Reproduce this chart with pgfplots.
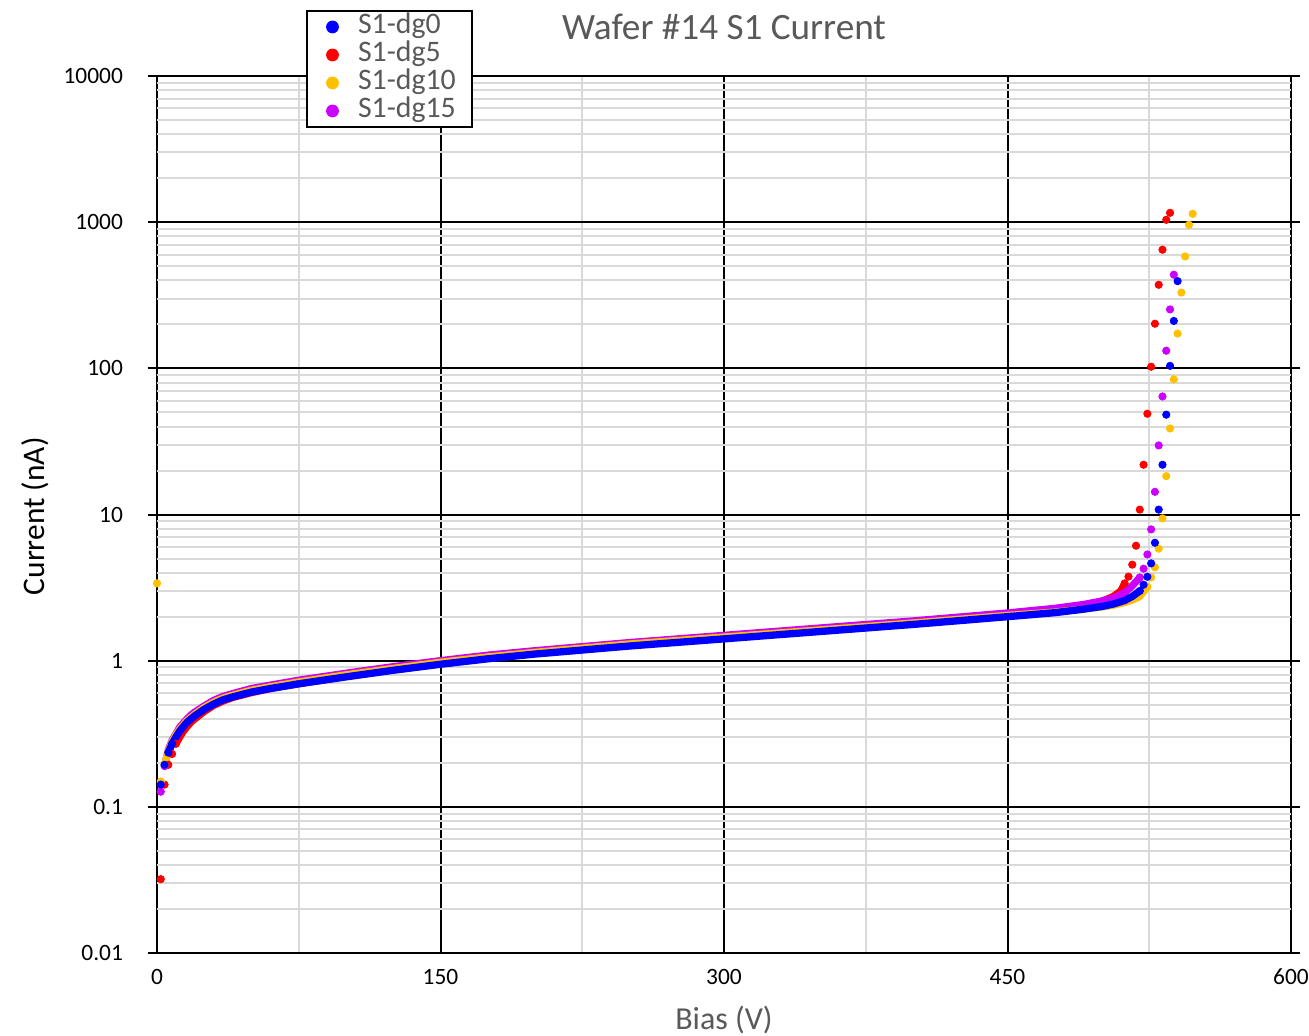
\documentclass[border=0pt]{standalone}
\usepackage{pgfplots}
\pgfplotsset{compat=1.18}
\usepackage{fontspec}
\setmainfont{Carlito}
\definecolor{dgblue}{HTML}{0000FF}
\definecolor{dgred}{HTML}{FF0000}
\definecolor{dgorange}{HTML}{FFC000}
\definecolor{dgpurple}{HTML}{CC00FF}
\definecolor{gridgray}{HTML}{D9D9D9}
\definecolor{txtgray}{HTML}{595959}
\begin{document}
\begin{tikzpicture}
\begin{axis}[
  scale only axis, width=567pt, height=438.5pt,
  at={(0,0)}, anchor=south west,
  clip=false,
  xmin=0, xmax=600, ymin=0.01, ymax=10000, ymode=log,
  xtick={0,150,300,450,600}, xticklabels={0,150,300,450,600},
  minor x tick num=1,
  ytick={0.01,0.1,1,10,100,1000,10000},
  yticklabels={0.01,0.1,1,10,100,1000,10000},
  xmajorgrids, xminorgrids, ymajorgrids,
  major grid style={black, line width=1pt},
  minor grid style={gridgray, line width=1pt},
  axis line style={black, line width=1pt},
  tick align=outside, major tick length=4.5pt,
  xtick style={draw=none}, minor x tick style={draw=none}, minor y tick style={draw=none},
  ytick style={black, line width=1pt},
  tick label style={font=\fontsize{11.7}{14}\selectfont, text=black},
  yticklabel style={xshift=-9pt},
  extra y ticks={0.02,0.03,0.04,0.05,0.06,0.07,0.08,0.09,0.2,0.3,0.4,0.5,0.6,0.7,0.8,0.9,2,3,4,5,6,7,8,9,20,30,40,50,60,70,80,90,200,300,400,500,600,700,800,900,2000,3000,4000,5000,6000,7000,8000,9000},
  extra y tick style={grid=major, major grid style={gridgray, line width=1pt}, ytick style={draw=none}, yticklabel={}},
  title={Wafer \#14 S1 Current},
  every axis title/.style={at={(axis description cs:0.5,1.042)}, anchor=base, font=\fontsize{18.6}{22}\selectfont, text=txtgray},
  xlabel={Bias (V)},
  every axis x label/.style={at={(axis description cs:0.5,-0.087)}, anchor=base, font=\fontsize{16}{19}\selectfont, text=txtgray},
  ylabel={Current (nA)},
  every axis y label/.style={at={(axis description cs:-0.0988,0.498)}, rotate=90, anchor=base, font=\fontsize{15.7}{19}\selectfont, text=black},
  legend image code/.code={\path[draw=none,fill=none] (0pt,0pt) rectangle (10.95pt,0pt); \fill[#1, draw=none] (7.55pt,0pt) circle (3.2pt);},
  legend cell align=left,
  legend style={at={(axis description cs:0.1314,1.0753)}, anchor=north west, draw=black, line width=1pt, fill=white,
    inner xsep=5.2pt, inner ysep=1pt, font=\fontsize{14.9}{17}\selectfont, text=txtgray,
    nodes={inner sep=0pt, text height=10.5pt, text depth=3.5pt, text width=51.8pt, align=left},
    /tikz/every odd column/.append style={column sep=9.35pt}},
]
\addlegendimage{dgblue}
\addlegendentry{S1-dg0}
\addlegendimage{dgred}
\addlegendentry{S1-dg5}
\addlegendimage{dgorange}
\addlegendentry{S1-dg10}
\addlegendimage{dgpurple}
\addlegendentry{S1-dg15}

% ---------- S1-dg5 (red)
\addplot[forget plot, dgred, line width=3.65pt, line cap=round, line join=round, no marks] coordinates {
(10,0.27) (12,0.30) (14,0.33) (16,0.355) (18,0.38) (20,0.40) (25,0.45) (30,0.495) (35,0.53) (40,0.56)
(50,0.605) (60,0.645) (75,0.695) (100,0.78) (125,0.865) (150,0.955) (175,1.04) (200,1.12) (250,1.28)
(300,1.44) (350,1.62) (400,1.83) (450,2.07) (475,2.22) (490,2.38) (500,2.55) (506,2.75) (510,3.0) (512,3.38)};
\addplot[forget plot, only marks, mark=*, mark size=1.83pt, dgred, mark options={draw=none, fill=dgred}] coordinates {
(2,0.032) (4,0.142) (6,0.194) (8,0.23) (10,0.27)
(512,3.38) (514,3.76) (516,4.54) (518,6.12) (520,10.8) (522,21.9) (524,48.9) (526,102.6) (528,202) (530,373) (532,648) (534,1038) (536,1159)};

% ---------- S1-dg15 (purple)
\addplot[forget plot, dgpurple, line width=3.65pt, line cap=round, line join=round, no marks] coordinates {
(4,0.19) (6,0.245) (8,0.285) (10,0.315) (12,0.35) (14,0.375) (16,0.40) (18,0.425) (20,0.445) (25,0.49) (30,0.535)
(35,0.57) (40,0.595) (50,0.645) (60,0.68) (75,0.735) (100,0.82) (125,0.91) (150,1.0) (175,1.09) (200,1.17)
(250,1.33) (300,1.49) (350,1.67) (400,1.87) (450,2.12) (475,2.28) (490,2.42) (500,2.56) (506,2.68) (512,2.92) (516,3.25) (520,3.71)};
\addplot[forget plot, only marks, mark=*, mark size=1.83pt, dgpurple, mark options={draw=none, fill=dgpurple}] coordinates {
(2,0.127) (4,0.19)
(520,3.71) (522,4.26) (524,5.33) (526,7.91) (528,14.3) (530,29.7) (532,64.2) (534,132) (536,253) (538,437)};

% ---------- S1-dg10 (orange)
\addplot[forget plot, dgorange, line width=3.65pt, line cap=round, line join=round, no marks] coordinates {
(4,0.194) (6,0.24) (8,0.28) (10,0.31) (12,0.34) (14,0.365) (16,0.39) (18,0.41) (20,0.43) (25,0.478) (30,0.52)
(35,0.555) (40,0.58) (50,0.628) (60,0.663) (75,0.715) (100,0.80) (125,0.885) (150,0.975) (175,1.06) (200,1.14)
(250,1.30) (300,1.45) (350,1.62) (400,1.81) (450,2.04) (475,2.15) (490,2.25) (500,2.33) (506,2.4) (512,2.5) (516,2.6) (520,2.75) (524,3.2)};
\addplot[forget plot, only marks, mark=*, mark size=1.83pt, dgorange, mark options={draw=none, fill=dgorange}] coordinates {
(0,3.38) (2,0.149) (4,0.194)
(524,3.2) (526,3.71) (528,4.35) (530,5.84) (532,9.40) (534,18.3) (536,38.8) (538,84) (540,173) (542,330) (544,583) (546,960) (548,1141)};

% ---------- S1-dg0 (blue)
\addplot[forget plot, dgblue, line width=3.65pt, line cap=round, line join=round, no marks] coordinates {
(6,0.235) (8,0.27) (10,0.30) (12,0.33) (14,0.355) (16,0.38) (18,0.40) (20,0.42) (25,0.465) (30,0.505)
(35,0.54) (40,0.565) (50,0.61) (60,0.645) (75,0.695) (100,0.775) (125,0.86) (150,0.945) (175,1.03) (200,1.11)
(250,1.26) (300,1.41) (350,1.58) (400,1.77) (450,2.0) (475,2.13) (490,2.25) (500,2.35) (506,2.44) (512,2.58) (516,2.75) (520,3.0)};
\addplot[forget plot, only marks, mark=*, mark size=1.83pt, dgblue, mark options={draw=none, fill=dgblue}] coordinates {
(2,0.142) (4,0.194) (6,0.235) (8,0.27)
(520,3.0) (522,3.31) (524,3.75) (526,4.63) (528,6.41) (530,10.8) (532,21.9) (534,48.2) (536,104) (538,211) (540,395)};
\end{axis}
\pgfresetboundingbox
\path[use as bounding box] (-78.5pt,-41pt) rectangle (576pt,476.5pt);
\end{tikzpicture}
\end{document}
